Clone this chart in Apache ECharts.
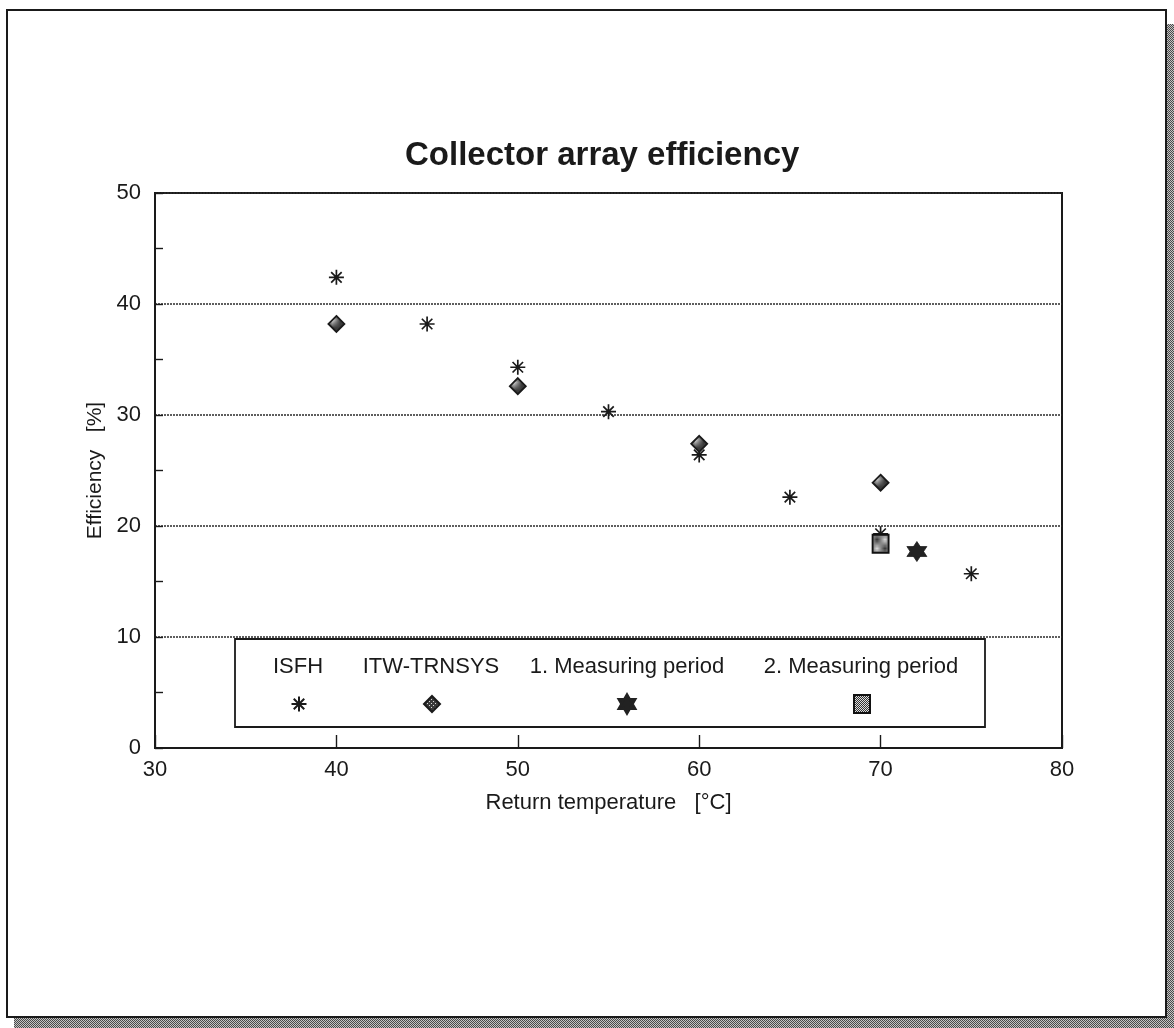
<!DOCTYPE html>
<html>
<head>
<meta charset="utf-8">
<script src="https://cdn.jsdelivr.net/npm/echarts@6/dist/echarts.min.js"></script>
<style>
  html, body { margin: 0; padding: 0; background: #ffffff; }
  #chart { width: 1174px; height: 1028px; }
</style>
</head>
<body>
<div id="chart"></div>
<script>
// Collector array efficiency vs. return temperature
const seriesNames = ['ISFH', 'ITW-TRNSYS', '1. Measuring period', '2. Measuring period'];

// ISFH measurements
const isfhTemp = [40, 45, 50, 55, 60, 65, 70, 75];
const isfhEff  = [42.4, 38.2, 34.3, 30.3, 26.4, 22.6, 19.3, 15.7];

// ITW-TRNSYS simulation
const trnsysTemp = [40, 50, 60, 70];
const trnsysEff  = [38.2, 32.6, 27.4, 23.9];

// Measured operating points
const period1Temp = [72];
const period1Eff  = [17.7];
const period2Temp = [70];
const period2Eff  = [18.4];

// Axis ranges and tick steps
const xRange = [30, 80];
const xStep = 10;
const yRange = [0, 50];
const yStep = 10;

const FONT = '"Liberation Sans", Arial, Helvetica, sans-serif';
const INK = '#1a1a1a';

// Small raster fills used for textured markers and the page shadow
function makePattern(size, draw) {
  const c = document.createElement('canvas');
  c.width = size; c.height = size;
  const g = c.getContext('2d');
  draw(g);
  return { image: c, repeat: 'repeat' };
}
const diamondFill = makePattern(4, g => {
  g.fillStyle = '#3a3a3a'; g.fillRect(0, 0, 4, 4);
  g.fillStyle = '#d8d8d8'; g.fillRect(1, 1, 1, 1); g.fillRect(3, 3, 1, 1);
});
const squareFill = makePattern(2, g => {
  g.fillStyle = '#dcdcdc'; g.fillRect(0, 0, 2, 2);
  g.fillStyle = '#333333'; g.fillRect(0, 0, 1, 1); g.fillRect(1, 1, 1, 1);
});
const shadowFill = makePattern(2, g => {
  g.fillStyle = '#c4c4c4'; g.fillRect(0, 0, 2, 2);
  g.fillStyle = '#4a4a4a'; g.fillRect(0, 0, 1, 1); g.fillRect(1, 1, 1, 1);
});

// Marker outlines
const asteriskPath = 'M10 0L10 20M0 10L20 10M3 3L17 17M3 17L17 3';
const diamondPath  = 'M10 0L20 10L10 20L0 10Z';
const starPath     = 'M10 0L18.66 15L1.34 15Z M10 20L1.34 5L18.66 5Z';
const squarePath   = 'M0 0L16 0L16 18L0 18Z';

const markerStyles = [
  { path: asteriskPath, size: [15, 15], style: { color: 'rgba(0,0,0,0)', borderColor: INK, borderWidth: 1.7, opacity: 1 } },
  { path: diamondPath,  size: [16, 16], style: { color: diamondFill, borderColor: INK, borderWidth: 1.8, opacity: 1 } },
  { path: starPath,     size: [20, 20], style: { color: '#222', borderColor: '#222', borderWidth: 0.8, opacity: 1 } },
  { path: squarePath,   size: [16, 18], style: { color: squareFill, borderColor: '#111', borderWidth: 2, opacity: 1 } }
];

const seriesData = [
  isfhTemp.map((t, i) => [t, isfhEff[i]]),
  trnsysTemp.map((t, i) => [t, trnsysEff[i]]),
  period1Temp.map((t, i) => [t, period1Eff[i]]),
  period2Temp.map((t, i) => [t, period2Eff[i]])
];

// Legend panel inside the plot: name above, marker below
const legendBox = { x: 235, y: 639, w: 750, h: 88 };
const legendCenters = [298, 431, 627, 861];
const legendMarkerY = 703;

const legendGraphics = [
  { type: 'rect', z: 10, shape: { x: legendBox.x, y: legendBox.y, width: legendBox.w, height: legendBox.h },
    style: { fill: '#ffffff', stroke: INK, lineWidth: 1.8 } }
];
seriesNames.forEach((name, i) => {
  legendGraphics.push({
    type: 'text', z: 11, x: legendCenters[i], y: 667,
    style: { text: name, fill: INK, font: '22px ' + FONT, textAlign: 'center', textVerticalAlign: 'middle' }
  });
});

// one icon-only legend per series, placed under its name
const legendIcons = seriesNames.map((name, i) => {
  const sz = markerStyles[i].size;
  return {
    data: [name],
    selectedMode: false,
    orient: 'horizontal',
    left: legendCenters[i] - sz[0] / 2,
    top: legendMarkerY - sz[1] / 2,
    padding: 0,
    itemGap: 0,
    itemWidth: sz[0],
    itemHeight: sz[1],
    formatter: () => '',
    textStyle: { fontSize: 1, padding: 0 },
    z: 20
  };
});

const chart = echarts.init(document.getElementById('chart'), null, { renderer: 'canvas' });

chart.setOption({
  backgroundColor: '#ffffff',
  animation: false,
  title: {
    text: 'Collector array efficiency',
    left: 400, top: 134,
    textStyle: { fontFamily: FONT, fontSize: 33, fontWeight: 'bold', color: INK }
  },
  legend: legendIcons,
  grid: {
    left: 155, top: 193, right: 112, bottom: 280,
    show: true, borderColor: INK, borderWidth: 2, backgroundColor: 'transparent'
  },
  xAxis: {
    type: 'value', min: xRange[0], max: xRange[1], interval: xStep,
    name: 'Return temperature   [°C]', nameLocation: 'middle', nameGap: 44,
    nameTextStyle: { fontFamily: FONT, fontSize: 22, color: INK },
    axisLine: { show: true, lineStyle: { color: INK, width: 2 } },
    axisTick: { show: true, inside: true, length: 13, lineStyle: { color: INK, width: 1.4 } },
    axisLabel: { fontFamily: FONT, fontSize: 22, color: INK, margin: 11 },
    splitLine: { show: false }
  },
  yAxis: {
    type: 'value', min: yRange[0], max: yRange[1], interval: yStep,
    name: 'Efficiency   [%]', nameLocation: 'middle', nameGap: 47, nameRotate: 90,
    nameTextStyle: { fontFamily: FONT, fontSize: 21, color: INK },
    axisLine: { show: true, lineStyle: { color: INK, width: 2 } },
    axisTick: { show: true, inside: true, length: 8, lineStyle: { color: INK, width: 1.4 } },
    minorTick: { show: true, splitNumber: 2, length: 8, lineStyle: { color: INK, width: 1.4 } },
    axisLabel: { fontFamily: FONT, fontSize: 22, color: INK, margin: 14 },
    splitLine: { show: true, lineStyle: { color: '#2a2a2a', width: 1.6, type: [2, 1] } }
  },
  series: seriesNames.map((name, i) => ({
    name: name,
    type: 'scatter',
    data: seriesData[i],
    symbol: 'path://' + markerStyles[i].path,
    symbolSize: markerStyles[i].size,
    itemStyle: markerStyles[i].style,
    emphasis: { disabled: true },
    z: 3 + i
  })),
  graphic: [
    // page shadow along the right and bottom edges
    { type: 'rect', z: -1, shape: { x: 1166, y: 24, width: 8, height: 1004 }, style: { fill: shadowFill } },
    { type: 'rect', z: -1, shape: { x: 14, y: 1017, width: 1160, height: 11 }, style: { fill: shadowFill } },
    // page frame
    { type: 'rect', z: 0, shape: { x: 7, y: 10, width: 1159, height: 1007 },
      style: { fill: null, stroke: INK, lineWidth: 2 } }
  ].concat(legendGraphics)
});
</script>
</body>
</html>
